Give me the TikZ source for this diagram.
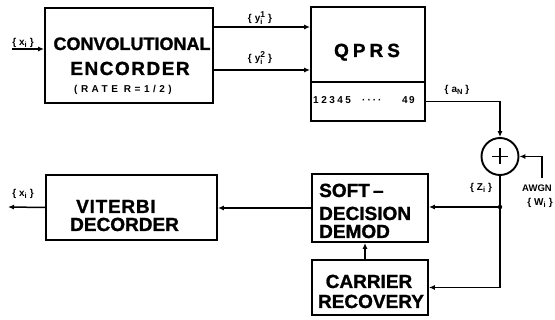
\documentclass[tikz,border=0pt]{standalone}
\usepackage{fontspec}
\setmainfont{Liberation Sans}
\usetikzlibrary{arrows.meta,calc}

% small set labels such as {x_i} and {y_i^1}
\newcommand\sbs[1]{\raisebox{-0.45ex}{\scalebox{0.75}{#1}}}
\newcommand\sps[2]{\rlap{\raisebox{-0.6ex}{\scalebox{0.75}{#2}}}\raisebox{0.75ex}{\scalebox{0.85}{#1}}}
\newcommand\setof[1]{\{\hspace{3pt}#1\hspace{3pt}\}}

\begin{document}
\begin{tikzpicture}[x=1pt,y=-1pt,
  box/.style={draw, line width=1.9pt, inner sep=0pt},
  wire/.style={line width=1.5pt},
  conn/.style={wire, -{Latex[length=6pt,width=5pt]}},
  big/.style={font=\fontsize{19}{19}\selectfont\bfseries\addfontfeature{FakeBold=1.2}, inner sep=0pt},
  lbl/.style={font=\fontsize{10}{10}\selectfont\bfseries, inner sep=0pt},
]
\useasboundingbox (0,0) rectangle (555,320);

% blocks
\node[box, minimum width=168pt, minimum height=95pt] (enc) at (129,55.5) {};
\node[box, minimum width=114pt, minimum height=75pt] (qtop) at (368,44.5) {};
\node[box, minimum width=114pt, minimum height=39pt] (qbot) at (368,101.5) {};
\node[box, circle, minimum size=37pt] (sum) at (500,156.5) {};
\node[box, minimum width=116pt, minimum height=68pt] (soft) at (370,208) {};
\node[box, minimum width=116pt, minimum height=55pt] (carr) at (370,287.5) {};
\node[box, minimum width=171pt, minimum height=65pt] (vit) at (131.5,207.5) {};

% plus sign of the adder
\draw[line width=1.8pt] ($(sum.center)+(-8,0)$) -- ($(sum.center)+(8,0)$)
                        ($(sum.center)+(0,-8)$) -- ($(sum.center)+(0,8)$);

% block texts
\node[big, font=\fontsize{18}{18}\selectfont\bfseries\addfontfeature{FakeBold=1.2}, anchor=base] (encA) at (132,50) {CONVOLUTIONAL};
\node[big, anchor=base] (encB) at (130,75) {\addfontfeature{LetterSpace=8}ENCORDER};
\node[inner sep=0pt, font=\fontsize{10}{10}\selectfont\bfseries, anchor=base] (encC) at (123,93)
  {\addfontfeature{LetterSpace=35}(RATE\hspace{6pt}R=1/2)};
\node[big, anchor=base] (qtxt) at (367,57) {Q\hspace{4pt}P\hspace{4pt}R\hspace{4pt}S};
\node[inner sep=0pt, font=\fontsize{10}{10}\selectfont\bfseries, anchor=base west] (qnum) at (313,104)
  {\addfontfeature{LetterSpace=25}12345};
\node[inner sep=0pt, font=\fontsize{10}{10}\selectfont\bfseries, anchor=base west] (qdots) at (362,104)
  {\addfontfeature{LetterSpace=20}····};
\node[inner sep=0pt, font=\fontsize{10}{10}\selectfont\bfseries, anchor=base east] (q49) at (415,104)
  {\addfontfeature{LetterSpace=15}49};
\node[big, anchor=base west] (sA) at (319,197) {SOFT\,–};
\node[big, anchor=base west] (sB) at (319,220) {DECISION};
\node[big, anchor=base west] (sC) at (319,238) {DEMOD};
\node[big, anchor=base] (cA) at (369,288) {CARRIER};
\node[big, anchor=base] (cB) at (371,308) {RECOVERY};
\node[big, anchor=base west] (vA) at (76,213) {\addfontfeature{LetterSpace=4}VITERBI};
\node[big, anchor=base west] (vB) at (70,231) {DECORDER};

% free ends and branch point
\coordinate (xin) at (12,49);
\coordinate (xout) at (8,207);
\coordinate (awgn) at (542,178);
\coordinate (jn) at (500,207);
\coordinate (y1) at (213,27);
\coordinate (y2) at (213,70);

% connectors
\draw[conn] (xin) -- (xin -| enc.west);
\draw[conn] (y1) -- (y1 -| qtop.west);
\draw[conn] (y2) -- (y2 -| qtop.west);
\draw[conn] (qbot.east) -| (sum.north);
\draw[conn] (awgn) |- (sum.east);
\draw[wire] (sum.south) -- (jn);
\draw[conn] (jn) -- (jn -| soft.east);
\draw[conn] (jn) |- (carr.east);
\fill (jn) circle (2.2pt);
\draw[conn] ([xshift=-5pt]carr.north) -- ([xshift=-5pt]soft.south);
\draw[conn] (soft.west) -- (soft.west -| vit.east);
\draw[conn] (vit.west) -- (xout);

% signal labels
\node[lbl] (lx) at (23,43) {\setof{x\sbs{i}}};
\node[lbl] (ly1) at (260,18) {\setof{y\sps{1}{i}}};
\node[lbl] (ly2) at (260,58) {\setof{y\sps{2}{i}}};
\node[lbl] (la) at (457,90) {\setof{a\sbs{N}}};
\node[lbl] (lz) at (481,188) {\setof{Z\sbs{i}}};
\node[lbl, font=\fontsize{9.5}{9.5}\selectfont\bfseries, anchor=west] (lawgn) at (522,188) {AWGN};
\node[lbl] (lw) at (540,203) {\setof{W\sbs{i}}};
\node[lbl] (lxo) at (23,194) {\setof{x\sbs{i}}};
\end{tikzpicture}
\end{document}
